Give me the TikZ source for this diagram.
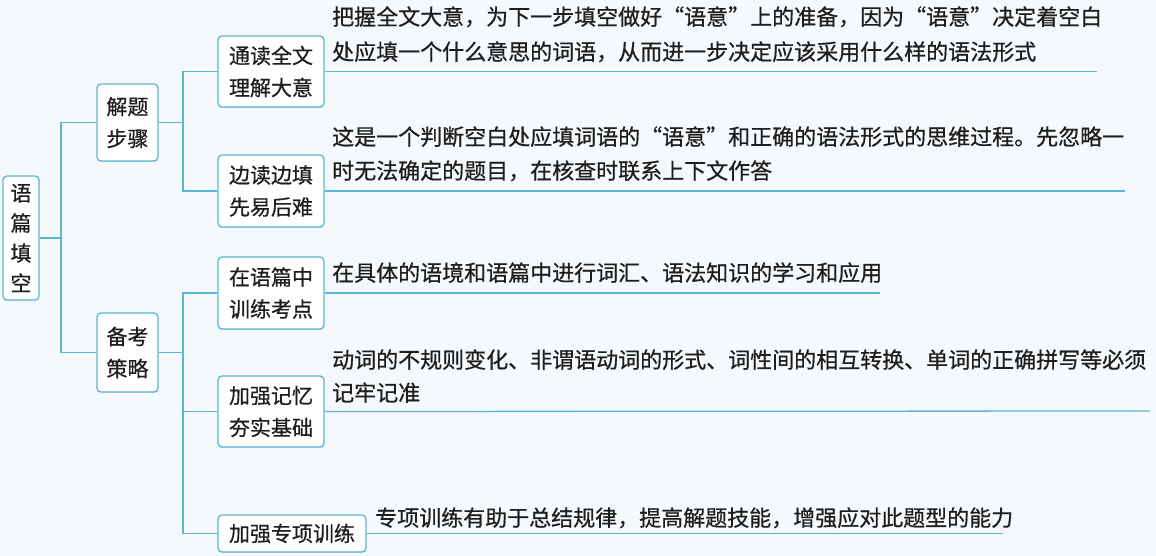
\documentclass[tikz,border=0pt]{standalone}
\usepackage{fontspec}
\setmainfont[FakeBold=0.6]{Noto Sans CJK SC}
\usetikzlibrary{shadows}
\definecolor{bluec}{RGB}{92,180,214}
\definecolor{bgc}{RGB}{246,249,252}
\definecolor{txt}{RGB}{30,30,30}
\tikzset{
  box/.style={draw=bluec, line width=1.3pt, rounded corners=4pt, fill=white, inner sep=0pt, align=center, text=txt, font=\fontsize{21}{32}\selectfont,
    drop shadow={shadow xshift=0pt, shadow yshift=-1.2pt, fill=bluec!45, opacity=0.6}},
  conn/.style={draw=bluec, line width=1.3pt},
  desc/.style={anchor=base west, inner sep=0pt, text=txt, font=\fontsize{22}{34}\selectfont}
}
\begin{document}
\begin{tikzpicture}[x=1pt,y=-1pt]
\fill[bgc] (0,0) rectangle (1156,556);
\useasboundingbox (0,0) rectangle (1156,556);

% nodes
\node[box, minimum width=36pt, minimum height=124pt, font=\fontsize{21}{30}\selectfont] (root) at (21,238) {语\\篇\\填\\空};
\node[box, minimum width=61pt, minimum height=77pt] (jt) at (127.5,122.5) {解题\\步骤};
\node[box, minimum width=61pt, minimum height=79pt] (bk) at (127.5,352.5) {备考\\策略};
\node[box, minimum width=106pt, minimum height=71pt] (t1) at (271,71.5) {通读全文\\理解大意};
\node[box, minimum width=106pt, minimum height=72pt] (t2) at (271,191) {边读边填\\先易后难};
\node[box, minimum width=106pt, minimum height=72pt] (t3) at (271,293) {在语篇中\\训练考点};
\node[box, minimum width=106pt, minimum height=71pt] (t4) at (271,411.5) {加强记忆\\夯实基础};
\node[box, minimum width=148pt, minimum height=37pt] (t5) at (292,533.5) {加强专项训练};

% elbow points
\coordinate (r1) at (61,238);
\coordinate (j1) at (183,122.5);
\coordinate (b1) at (183,352.5);

% connectors
\draw[conn] (root.east) -- (r1);
\draw[conn] (jt.west) -- (jt.west -| r1) -- (bk.west -| r1) -- (bk.west);
\draw[conn] (jt.east) -- (j1);
\draw[conn] (t1.west) -- (t1.west -| j1) -- (t2.west -| j1) -- (t2.west);
\draw[conn] (bk.east) -- (b1);
\draw[conn] (t3.west) -- (t3.west -| b1) -- (t5.west -| b1) -- (t5.west);
\draw[conn] (t4.west) -- (t4.west -| b1);

% underlines
\coordinate (e1) at (1097,71.5);
\coordinate (e2) at (1125,191);
\coordinate (e3) at (880,293);
\coordinate (e4) at (1150,411);
\coordinate (e5) at (1003,533.5);
\draw[conn] (t1.east) -- (e1);
\draw[conn] (t2.east) -- (e2);
\draw[conn] (t3.east) -- (e3);
\draw[conn] (t4.east) -- (e4);
\draw[conn] (t5.east) -- (e5);

% descriptions
\node[desc] (d1a) at (332,25) {把握全文大意，为下一步填空做好“语意”上的准备，因为“语意”决定着空白};
\node[desc] (d1b) at (332,60) {处应填一个什么意思的词语，从而进一步决定应该采用什么样的语法形式};
\node[desc] (d2a) at (332,145) {这是一个判断空白处应填词语的“语意”和正确的语法形式的思维过程。先忽略一};
\node[desc] (d2b) at (332,179) {时无法确定的题目，在核查时联系上下文作答};
\node[desc] (d3) at (332,281) {在具体的语境和语篇中进行词汇、语法知识的学习和应用};
\node[desc] (d4a) at (332,368) {动词的不规则变化、非谓语动词的形式、词性间的相互转换、单词的正确拼写等必须};
\node[desc] (d4b) at (332,401) {记牢记准};
\node[desc] (d5) at (375,526) {专项训练有助于总结规律，提高解题技能，增强应对此题型的能力};
\end{tikzpicture}
\end{document}
